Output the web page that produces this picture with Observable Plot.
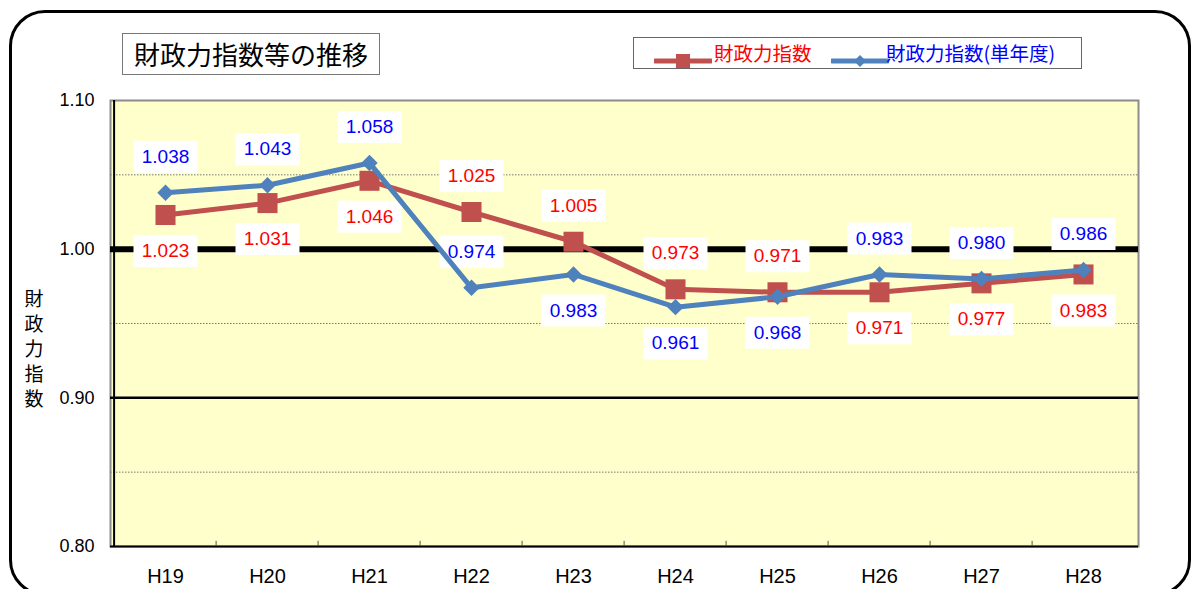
<!DOCTYPE html>
<html>
<head>
<meta charset="utf-8">
<script src="https://cdn.jsdelivr.net/npm/d3@7"></script>
<script src="https://cdn.jsdelivr.net/npm/@observablehq/plot@0.6"></script>
<style>
  html, body { margin: 0; padding: 0; background: #fff; }
  #wrap { position: relative; width: 1197px; height: 589px; overflow: hidden; font-family: "Liberation Sans", Arial, sans-serif; }
  #outer { position: absolute; left: 9px; top: 10px; width: 1176px; height: 580px; border: 3px solid #000; border-radius: 36px; }
  #title { position: absolute; left: 122px; top: 33px; width: 256px; height: 40px; border: 1px solid #777; background: #fff;
           font-family: "Noto Sans CJK JP", sans-serif; font-size: 26px; line-height: 40px; text-align: center; color: #000; }
  #legend { position: absolute; left: 633px; top: 37px; width: 447px; height: 30px; border: 1px solid #666; background: #fff;
            font-family: "Noto Sans CJK JP", sans-serif; font-size: 19.5px; line-height: 30px; white-space: nowrap; }
  #legend span.item { position: absolute; top: 0; }
  #ylabel { position: absolute; left: 22px; top: 285px; width: 24px; font-family: "Noto Sans CJK JP", sans-serif; font-size: 19px;
            line-height: 25px; text-align: center; color: #000; }
  #chart { position: absolute; left: 0; top: 0; }
</style>
</head>
<body>
<div id="wrap">
  <div id="outer"></div>
  <div id="chart"></div>
  <div id="title">財政力指数等の推移</div>
  <div id="legend"></div>
  <div id="ylabel"></div>
</div>
<script>
// ---- data ----
const years = ["H19", "H20", "H21", "H22", "H23", "H24", "H25", "H26", "H27", "H28"];
const fiscalIndex = [1.023, 1.031, 1.046, 1.025, 1.005, 0.973, 0.971, 0.971, 0.977, 0.983];
const fiscalIndexSingle = [1.038, 1.043, 1.058, 0.974, 0.983, 0.961, 0.968, 0.983, 0.980, 0.986];
const fiscalLabelSide = ["below", "below", "below", "above", "above", "above", "above", "below", "below", "below"];
const singleLabelSide = ["above", "above", "above", "above", "below", "below", "below", "above", "above", "above"];
const yTicks = [0.80, 0.90, 1.00, 1.10];
const seriesNames = ["財政力指数", "財政力指数(単年度)"];
const yTitle = "財政力指数";

// ---- styling ----
const redLine = "#C0504D", blueLine = "#4F81BD";
const redText = "#FF0000", blueText = "#0000FF";
const W = 1197, H = 589;
const mL = 110, mR = 59, mT = 100, mB = 43;
const bw = (W - mL - mR) / years.length;
const labelOffset = 36;

const red = years.map((y, i) => ({year: y, value: fiscalIndex[i], side: fiscalLabelSide[i]}));
const blue = years.map((y, i) => ({year: y, value: fiscalIndexSingle[i], side: singleLabelSide[i]}));

const boxSymbol = { draw(ctx) { ctx.rect(-32, -16, 64, 32); } };

function labels(data, color) {
  const up = data.filter(d => d.side === "above");
  const dn = data.filter(d => d.side === "below");
  const opts = (dy) => ({x: "year", y: "value", dy});
  return [
    Plot.dot(up, {...opts(-labelOffset), symbol: boxSymbol, fill: "#fff", stroke: null}),
    Plot.dot(dn, {...opts(labelOffset), symbol: boxSymbol, fill: "#fff", stroke: null}),
    Plot.text(up, {...opts(-labelOffset), text: d => d.value.toFixed(3), fill: color, fontSize: 19}),
    Plot.text(dn, {...opts(labelOffset), text: d => d.value.toFixed(3), fill: color, fontSize: 19})
  ];
}

const chart = Plot.plot({
  width: W, height: H,
  marginLeft: mL, marginRight: mR, marginTop: mT, marginBottom: mB,
  style: {background: "transparent", fontFamily: "'Liberation Sans', Arial, sans-serif", fontSize: "18px", color: "#000"},
  x: {type: "band", domain: years, padding: 0, label: null},
  y: {domain: [0.8, 1.1], label: null},
  marks: [
    Plot.frame({fill: "#FFFFCC", stroke: "#8c8c8c", strokeWidth: 2}),
    Plot.ruleY([1.05, 0.95, 0.85], {stroke: "#777", strokeWidth: 1, strokeDasharray: "1.5,1.5"}),
    Plot.ruleY([1.0], {stroke: "#000", strokeWidth: 6}),
    Plot.ruleY([0.9], {stroke: "#000", strokeWidth: 2.5}),
    Plot.ruleY([0.8], {stroke: "#000", strokeWidth: 2}),
    Plot.ruleX([years[0]], {dx: -bw / 2, stroke: "#000", strokeWidth: 2}),
    Plot.ruleX(years.slice(1), {dx: -bw / 2, y1: 0.8, y2: 0.8035, stroke: "#555", strokeWidth: 1}),
    Plot.axisX({tickSize: 0, tickPadding: 22, fontSize: 20}),
    Plot.axisY({ticks: yTicks, tickFormat: d3.format(".2f"), tickSize: 0, tickPadding: 16, fontSize: 18}),
    ...labels(red, redText),
    ...labels(blue, blueText),
    Plot.line(red, {x: "year", y: "value", stroke: redLine, strokeWidth: 5}),
    Plot.dot(red, {x: "year", y: "value", symbol: "square", r: 11.3, fill: redLine, stroke: null}),
    Plot.line(blue, {x: "year", y: "value", stroke: blueLine, strokeWidth: 5}),
    Plot.dot(blue, {x: "year", y: "value", symbol: "diamond2", r: 7.4, fill: blueLine, stroke: null})
  ]
});
document.getElementById("chart").appendChild(chart);
// enforce axis label sizes
d3.select(chart).selectAll('g[aria-label="x-axis tick label"] text, g[aria-label="x-axis tick label"]').style("font-size", "20px");
d3.select(chart).selectAll('g[aria-label="y-axis tick label"] text, g[aria-label="y-axis tick label"]').style("font-size", "18px");

// legend
const lg = document.getElementById("legend");
lg.innerHTML =
  `<span class="item" style="left:20px;top:8px;"><svg width="58" height="16"><line x1="1" y1="8" x2="57" y2="8" stroke="${redLine}" stroke-width="5" stroke-linecap="round"/><rect x="22" y="1" width="14" height="14" fill="${redLine}"/></svg></span>` +
  `<span class="item" style="left:80px;color:${redText}">${seriesNames[0]}</span>` +
  `<span class="item" style="left:197px;top:8px;"><svg width="58" height="16"><line x1="1" y1="8" x2="57" y2="8" stroke="${blueLine}" stroke-width="5" stroke-linecap="round"/><path d="M29 2 L35 8 L29 14 L23 8 Z" fill="${blueLine}"/></svg></span>` +
  `<span class="item" style="left:252px;color:${blueText}">${seriesNames[1]}</span>`;

document.getElementById("ylabel").innerHTML = yTitle.split("").join("<br>");
</script>
</body>
</html>
